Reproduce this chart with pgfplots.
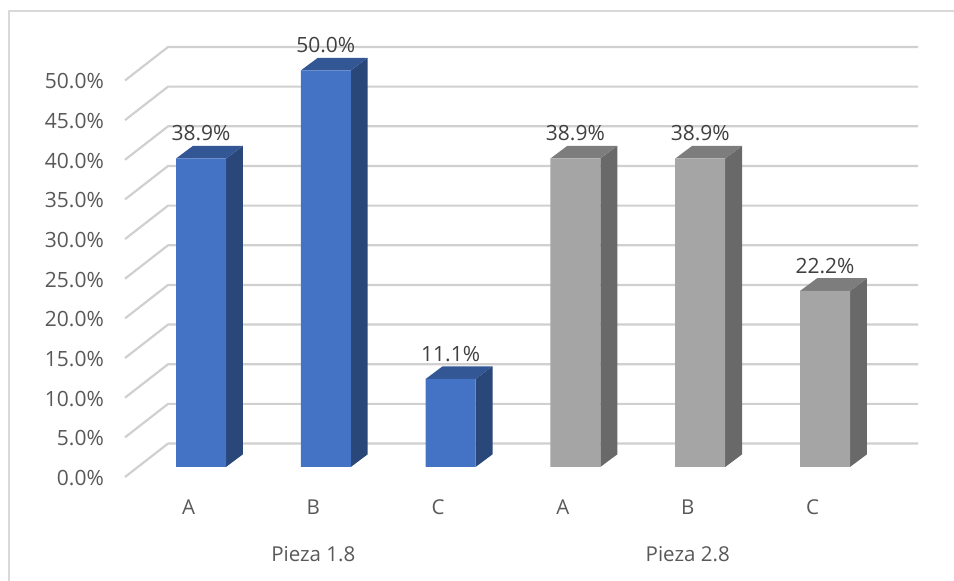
\documentclass[border=0pt]{standalone}
\usepackage{fontspec}
\setmainfont{Open Sans}
\usepackage{pgfplots}
\pgfplotsset{compat=1.18}
\definecolor{gridc}{HTML}{D0D0D0}
\definecolor{framec}{HTML}{D9D9D9}
\definecolor{tickc}{HTML}{595959}
\definecolor{labc}{HTML}{404040}
\definecolor{bluef}{HTML}{4472C4}
\definecolor{blues}{HTML}{2A4779}
\definecolor{bluet}{HTML}{335795}
\definecolor{grayf}{HTML}{A5A5A5}
\definecolor{grays}{HTML}{696969}
\definecolor{grayt}{HTML}{7D7D7D}
\newcommand{\fs}{\fontsize{21}{25}\selectfont}
\newcommand{\fx}{\fontsize{20.5}{24}\selectfont}
\pgfplotsset{
 wall/.style={draw=gridc,line width=2.2pt,line join=round,forget plot},
 side/.style={fill=#1,draw=none,forget plot},
}
\begin{document}
\begin{tikzpicture}[x=1pt,y=1pt]
\path[use as bounding box] (0,0) rectangle (954,581);
\draw[framec,line width=2pt] (8.5,0) -- (8.5,570) -- (954,570);
\begin{axis}[
 at={(125pt,114pt)},anchor=south west,
 scale only axis,width=793pt,height=420pt,
 xmin=-0.609,xmax=5.745,ymin=0,ymax=52.96,
 clip=false,
 axis line style={draw=none},
 tick style={draw=none},
 major tick length=0pt,
 ytick={0,5,10,15,20,25,30,35,40,45,50},
 yticklabel={\pgfmathprintnumber[fixed,fixed zerofill,precision=1,assume math mode=true]{\tick}\%},
 yticklabel style={font=\fs,text=tickc,inner sep=0pt,anchor=east,xshift=-21pt,yshift=-11pt},
 xtick={0,1,2,3,4,5},
 xticklabels={A,B,C,A,B,C},
 xticklabel style={font=\fx,text=tickc,inner sep=0pt,anchor=center,xshift=-12.5pt,yshift=-40pt},
 extra x ticks={1,4},
 extra x tick labels={Pieza 1.8,Pieza 2.8},
 extra x tick style={xticklabel style={yshift=-47pt}},
 nodes near coords style={font=\fs,text=labc,anchor=center,yshift=25pt,inner sep=0pt},
]
% floor and walls: the gridlines, each at its value plus the depth offset
\addplot[wall] coordinates {(-0.609,-1.26) (-0.264,2.96) (5.745,2.96)};
\addplot[wall] coordinates {(-0.609,3.74) (-0.264,7.96) (5.745,7.96)};
\addplot[wall] coordinates {(-0.609,8.74) (-0.264,12.96) (5.745,12.96)};
\addplot[wall] coordinates {(-0.609,13.74) (-0.264,17.96) (5.745,17.96)};
\addplot[wall] coordinates {(-0.609,18.74) (-0.264,22.96) (5.745,22.96)};
\addplot[wall] coordinates {(-0.609,23.74) (-0.264,27.96) (5.745,27.96)};
\addplot[wall] coordinates {(-0.609,28.74) (-0.264,32.96) (5.745,32.96)};
\addplot[wall] coordinates {(-0.609,33.74) (-0.264,37.96) (5.745,37.96)};
\addplot[wall] coordinates {(-0.609,38.74) (-0.264,42.96) (5.745,42.96)};
\addplot[wall] coordinates {(-0.609,43.74) (-0.264,47.96) (5.745,47.96)};
\addplot[wall] coordinates {(-0.609,48.74) (-0.264,52.96) (5.745,52.96)};
% side faces
\addplot[side=blues] coordinates {(0.2,0) (0.336,1.6) (0.336,40.5) (0.2,38.9)} --cycle;
\addplot[side=blues] coordinates {(1.2,0) (1.336,1.6) (1.336,51.6) (1.2,50)} --cycle;
\addplot[side=blues] coordinates {(2.2,0) (2.336,1.6) (2.336,12.7) (2.2,11.1)} --cycle;
\addplot[side=grays] coordinates {(3.2,0) (3.336,1.6) (3.336,40.5) (3.2,38.9)} --cycle;
\addplot[side=grays] coordinates {(4.2,0) (4.336,1.6) (4.336,40.5) (4.2,38.9)} --cycle;
\addplot[side=grays] coordinates {(5.2,0) (5.336,1.6) (5.336,23.8) (5.2,22.2)} --cycle;
% top faces
\addplot[side=bluet] coordinates {(-0.2,38.9) (-0.064,40.5) (0.336,40.5) (0.2,38.9)} --cycle;
\addplot[side=bluet] coordinates {(0.8,50) (0.936,51.6) (1.336,51.6) (1.2,50)} --cycle;
\addplot[side=bluet] coordinates {(1.8,11.1) (1.936,12.7) (2.336,12.7) (2.2,11.1)} --cycle;
\addplot[side=grayt] coordinates {(2.8,38.9) (2.936,40.5) (3.336,40.5) (3.2,38.9)} --cycle;
\addplot[side=grayt] coordinates {(3.8,38.9) (3.936,40.5) (4.336,40.5) (4.2,38.9)} --cycle;
\addplot[side=grayt] coordinates {(4.8,22.2) (4.936,23.8) (5.336,23.8) (5.2,22.2)} --cycle;
% front faces
\addplot[ybar,bar width=50pt,bar shift=0pt,fill=bluef,draw=none,
 nodes near coords={\pgfmathprintnumber[fixed,fixed zerofill,precision=1,assume math mode=true]{\pgfplotspointmeta}\%}]
 coordinates {(0,38.9) (1,50) (2,11.1)};
\addplot[ybar,bar width=50pt,bar shift=0pt,fill=grayf,draw=none,
 nodes near coords={\pgfmathprintnumber[fixed,fixed zerofill,precision=1,assume math mode=true]{\pgfplotspointmeta}\%}]
 coordinates {(3,38.9) (4,38.9) (5,22.2)};
\end{axis}
\end{tikzpicture}
\end{document}
